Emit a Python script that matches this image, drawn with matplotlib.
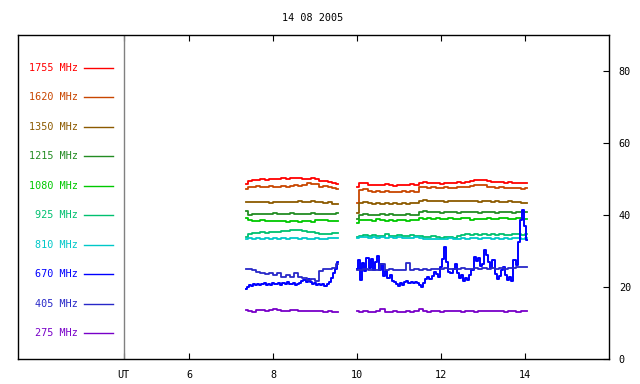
import numpy as np
import matplotlib
matplotlib.use("Agg")
import matplotlib.pyplot as plt

plt.rcParams['font.family'] = 'DejaVu Sans Mono'
plt.rcParams['font.size'] = 7.3

title = "14 08 2005"
freqs = ["1755", "1620", "1350", "1215", "1080", "925", "810", "670", "405", "275"]
colors = ["#ff0000", "#c84600", "#8c5a00", "#238c23", "#00c800",
          "#00c070", "#00c8c8", "#0000ff", "#2828c8", "#7800c8"]

# time grids (UT hours) of the two recording intervals
t1 = np.linspace(7.35, 9.55, 23)
t2 = np.linspace(10.0, 14.05, 41)
t1_fine = np.linspace(7.35, 9.55, 45)
t2_fine = np.linspace(10.0, 14.05, 82)

# flux values, interval 1
s1 = {
    "1755": [48.7, 49.4, 49.7, 49.6, 49.9, 49.8, 50.0, 49.9, 50.1, 50.2, 50.1, 50.3,
             50.2, 50.2, 50.1, 50.0, 50.2, 50.0, 49.4, 49.5, 49.3, 48.8, 48.7],
    "1620": [47.3, 47.9, 47.8, 48.0, 47.9, 47.8, 48.0, 47.9, 47.8, 48.1, 47.9, 48.0,
             48.2, 48.1, 48.2, 48.9, 48.6, 48.5, 47.9, 48.0, 47.8, 47.4, 47.3],
    "1350": [43.7, 43.5, 43.6, 43.7, 43.5, 43.6, 43.4, 43.6, 43.7, 43.5, 43.6, 43.7,
             43.5, 43.8, 43.6, 43.7, 43.9, 43.6, 43.5, 43.4, 43.5, 43.1, 43.0],
    "1215": [41.0, 40.1, 40.3, 40.4, 40.2, 40.4, 40.3, 40.5, 40.3, 40.2, 40.4, 40.6,
             40.3, 40.4, 40.3, 40.2, 40.6, 40.4, 40.2, 40.3, 40.4, 40.2, 40.5],
    "1080": [39.2, 38.5, 38.4, 38.3, 38.5, 38.2, 38.4, 38.3, 38.2, 38.4, 38.1, 38.3,
             38.2, 38.0, 38.2, 38.3, 38.1, 38.5, 38.6, 38.5, 38.4, 38.2, 38.3],
    "925": [34.0, 34.6, 34.9, 35.1, 35.2, 35.1, 35.3, 35.4, 35.3, 35.5, 35.6, 35.8,
            35.9, 35.7, 35.5, 35.3, 35.2, 35.0, 34.8, 34.6, 34.7, 34.9, 35.0],
    "810": [33.2, 33.5, 33.4, 33.5, 33.3, 33.5, 33.4, 33.6, 33.4, 33.5, 33.3, 33.5,
            33.6, 33.4, 33.5, 33.3, 33.4, 33.5, 33.4, 33.3, 33.5, 33.5, 33.6],
    "405": [24.9, 24.9, 24.6, 24.1, 23.8, 23.7, 24.0, 23.4, 23.9, 22.7, 23.3, 22.8,
            24.0, 22.9, 22.6, 21.9, 22.3, 21.8, 24.4, 24.9, 25.0, 25.4, 26.3],
    "275": [13.6, 13.3, 13.0, 13.5, 13.7, 13.4, 13.5, 13.8, 13.6, 13.3, 13.4, 13.6,
            13.5, 13.3, 13.4, 13.3, 13.4, 13.2, 13.3, 13.1, 13.2, 13.0, 13.1],
}
s1_670 = [19.4, 20.0, 20.5, 20.3, 20.8, 20.6, 20.9, 20.5, 20.7, 21.0, 20.6, 20.9,
          20.5, 21.1, 20.7, 20.9, 21.2, 20.6, 21.0, 20.8, 21.3, 20.7, 20.9, 21.2,
          20.6, 20.8, 21.1, 21.6, 22.0, 21.4, 22.2, 21.3, 20.8, 21.0, 20.6, 20.7,
          20.5, 20.8, 20.4, 20.9, 21.3, 22.5, 24.0, 25.0, 27.0]

# interval 2
s2 = {
    "1755": [47.8, 48.8, 48.9, 48.3, 48.2, 48.4, 48.3, 48.5, 48.2, 48.1, 48.3, 48.4,
             48.2, 48.5, 48.3, 49.0, 49.1, 48.8, 49.0, 48.9, 48.7, 48.9, 49.0, 48.9,
             49.1, 49.0, 49.2, 49.4, 49.7, 49.8, 49.6, 49.5, 49.2, 49.3, 49.1, 49.0,
             49.2, 48.9, 49.0, 48.8, 48.9],
    "1620": [43.3, 47.0, 47.2, 46.6, 46.5, 46.7, 46.5, 46.8, 46.4, 46.3, 46.5, 46.6,
             46.4, 46.7, 46.5, 47.8, 47.9, 47.6, 47.7, 47.5, 47.6, 47.7, 47.5, 47.6,
             47.8, 47.7, 47.9, 48.1, 48.2, 48.3, 48.2, 47.9, 47.8, 47.6, 47.7, 47.5,
             47.6, 47.4, 47.5, 47.3, 47.4],
    "1350": [40.6, 43.4, 43.5, 43.2, 43.1, 43.3, 43.0, 43.2, 43.1, 43.3, 43.0, 43.2,
             43.1, 43.3, 43.2, 44.0, 44.1, 43.9, 44.0, 43.8, 43.9, 43.7, 43.8, 43.9,
             44.0, 43.8, 43.9, 44.0, 43.8, 43.7, 43.9, 43.8, 43.7, 43.8, 43.6, 43.7,
             43.8, 43.6, 43.5, 43.3, 43.4],
    "1215": [38.9, 39.9, 40.2, 40.0, 40.1, 39.9, 40.2, 40.0, 40.3, 39.9, 40.1, 40.0,
             40.2, 40.1, 39.9, 40.8, 41.0, 40.7, 40.9, 40.8, 40.6, 40.8, 40.7, 40.9,
             40.6, 40.8, 40.7, 40.9, 40.8, 40.6, 40.9, 40.7, 40.8, 40.6, 40.9, 40.7,
             40.8, 40.6, 40.7, 40.8, 40.7],
    "1080": [37.9, 38.5, 38.7, 38.6, 38.4, 38.8, 38.5, 38.3, 38.6, 38.4, 38.7, 38.5,
             38.3, 38.6, 38.5, 39.1, 39.0, 39.2, 38.9, 39.1, 39.0, 38.8, 39.1, 39.0,
             38.9, 39.1, 39.2, 38.7, 38.9, 39.0, 38.8, 39.1, 39.0, 38.9, 39.1, 39.2,
             39.0, 38.9, 39.1, 39.0, 38.9],
    "925": [34.0, 34.3, 34.5, 34.2, 34.4, 34.1, 34.3, 34.6, 34.2, 34.3, 34.5, 34.1,
            34.2, 34.4, 34.3, 34.2, 34.0, 33.9, 34.1, 33.8, 33.7, 33.9, 33.8, 33.7,
            34.3, 34.5, 34.6, 34.4, 34.7, 34.5, 34.6, 34.4, 34.8, 34.5, 34.6, 34.4,
            34.5, 34.7, 34.6, 34.5, 34.7],
    "810": [33.6, 33.9, 33.8, 33.7, 33.9, 33.6, 33.8, 33.7, 33.9, 33.6, 33.8, 33.7,
            33.6, 33.7, 33.8, 33.5, 33.4, 33.2, 33.3, 33.2, 33.4, 33.3, 33.5, 33.4,
            33.3, 33.5, 33.4, 33.6, 33.5, 33.4, 33.5, 33.6, 33.4, 33.5, 33.3, 33.5,
            33.4, 33.6, 33.5, 33.4, 33.5],
    "405": [24.8, 24.6, 24.9, 24.7, 24.8, 24.6, 26.3, 24.7, 24.9, 24.6, 24.8, 24.7,
            26.8, 24.8, 24.9, 24.7, 25.0, 24.8, 25.1, 24.9, 25.0, 25.2, 25.1, 24.9,
            25.0, 25.2, 25.1, 25.0, 25.2, 25.1, 25.3, 25.0, 25.2, 25.1, 25.3, 25.0,
            25.2, 25.4, 25.6, 25.5, 25.6],
    "275": [13.2, 13.1, 13.2, 13.0, 13.1, 13.2, 13.9, 13.1, 13.0, 13.2, 13.1, 13.0,
            13.2, 13.1, 13.3, 13.9, 13.2, 13.1, 13.3, 13.2, 13.1, 13.2, 13.4, 13.3,
            13.2, 13.1, 13.3, 13.2, 13.1, 13.4, 13.3, 13.2, 13.4, 13.3, 13.2, 13.1,
            13.3, 13.2, 13.1, 13.4, 13.3],
}
s2_670 = [25.0, 27.5, 22.0, 26.8, 24.5, 28.0, 25.3, 27.9, 24.8, 27.0, 28.6, 24.6,
          26.5, 23.0, 24.5, 22.4, 23.3, 21.8, 21.4, 20.8, 20.4, 21.0, 20.6, 21.3,
          21.6, 21.2, 21.5, 21.1, 21.4, 21.0, 20.5, 20.1, 21.0, 22.2, 22.8, 22.3,
          23.0, 24.3, 23.6, 22.9, 25.5, 27.8, 31.0, 27.0, 24.2, 23.8, 25.0, 26.5,
          24.0, 22.6, 23.3, 21.6, 22.5, 21.9, 23.4, 24.6, 28.3, 27.2, 28.0, 25.8,
          26.5, 30.2, 29.0, 27.0, 25.4, 27.6, 23.6, 22.2, 23.0, 24.8, 25.6, 23.4,
          22.0, 22.8, 21.8, 27.4, 26.0, 32.5, 38.6, 41.5, 37.0, 33.0]

legend_y = [80.9, 72.7, 64.5, 56.3, 48.1, 39.9, 31.7, 23.5, 15.3, 7.2]
ut_pos = 4.45

fig = plt.figure(figsize=(6.4, 3.84), dpi=100)
ax = fig.add_axes([18 / 640, 25 / 384, 591 / 640, 324 / 384])

for f, c in zip(freqs, colors):
    if f == "670":
        ax.plot(t1_fine, s1_670, color=c, lw=1.4, drawstyle='steps-mid')
        ax.plot(t2_fine, s2_670, color=c, lw=1.4, drawstyle='steps-mid')
    else:
        ax.plot(t1, s1[f], color=c, lw=1.3, drawstyle='steps-mid')
        ax.plot(t2, s2[f], color=c, lw=1.3, drawstyle='steps-mid')

# legend drawn inside the left part of the frame
for f, c, y in zip(freqs, colors, legend_y):
    ax.text(3.36, y, f + " MHz", color=c, ha='right', va='center')
    ax.plot([3.5, 4.18], [y, y], color=c, lw=1.0)

ax.axvline(ut_pos, color='#808080', lw=1.0)

ax.set_xlim(1.93, 16.0)
ax.set_ylim(0, 90)

ax.set_xticks([ut_pos, 6, 8, 10, 12, 14])
ax.set_xticklabels(["UT", "6", "8", "10", "12", "14"])
ax.tick_params(axis='x', direction='in', length=4, width=0.8, pad=8,
               top=True, bottom=True)
ax.yaxis.tick_right()
ax.set_yticks([0, 20, 40, 60, 80])
ax.tick_params(axis='y', direction='in', length=4, width=0.8, pad=7,
               left=False, right=True)

for sp in ax.spines.values():
    sp.set_linewidth(1.0)
    sp.set_color('black')

fig.text(313 / 640, 1 - 18 / 384, title, ha='center', va='center')

fig.savefig("out.png", dpi=100)
